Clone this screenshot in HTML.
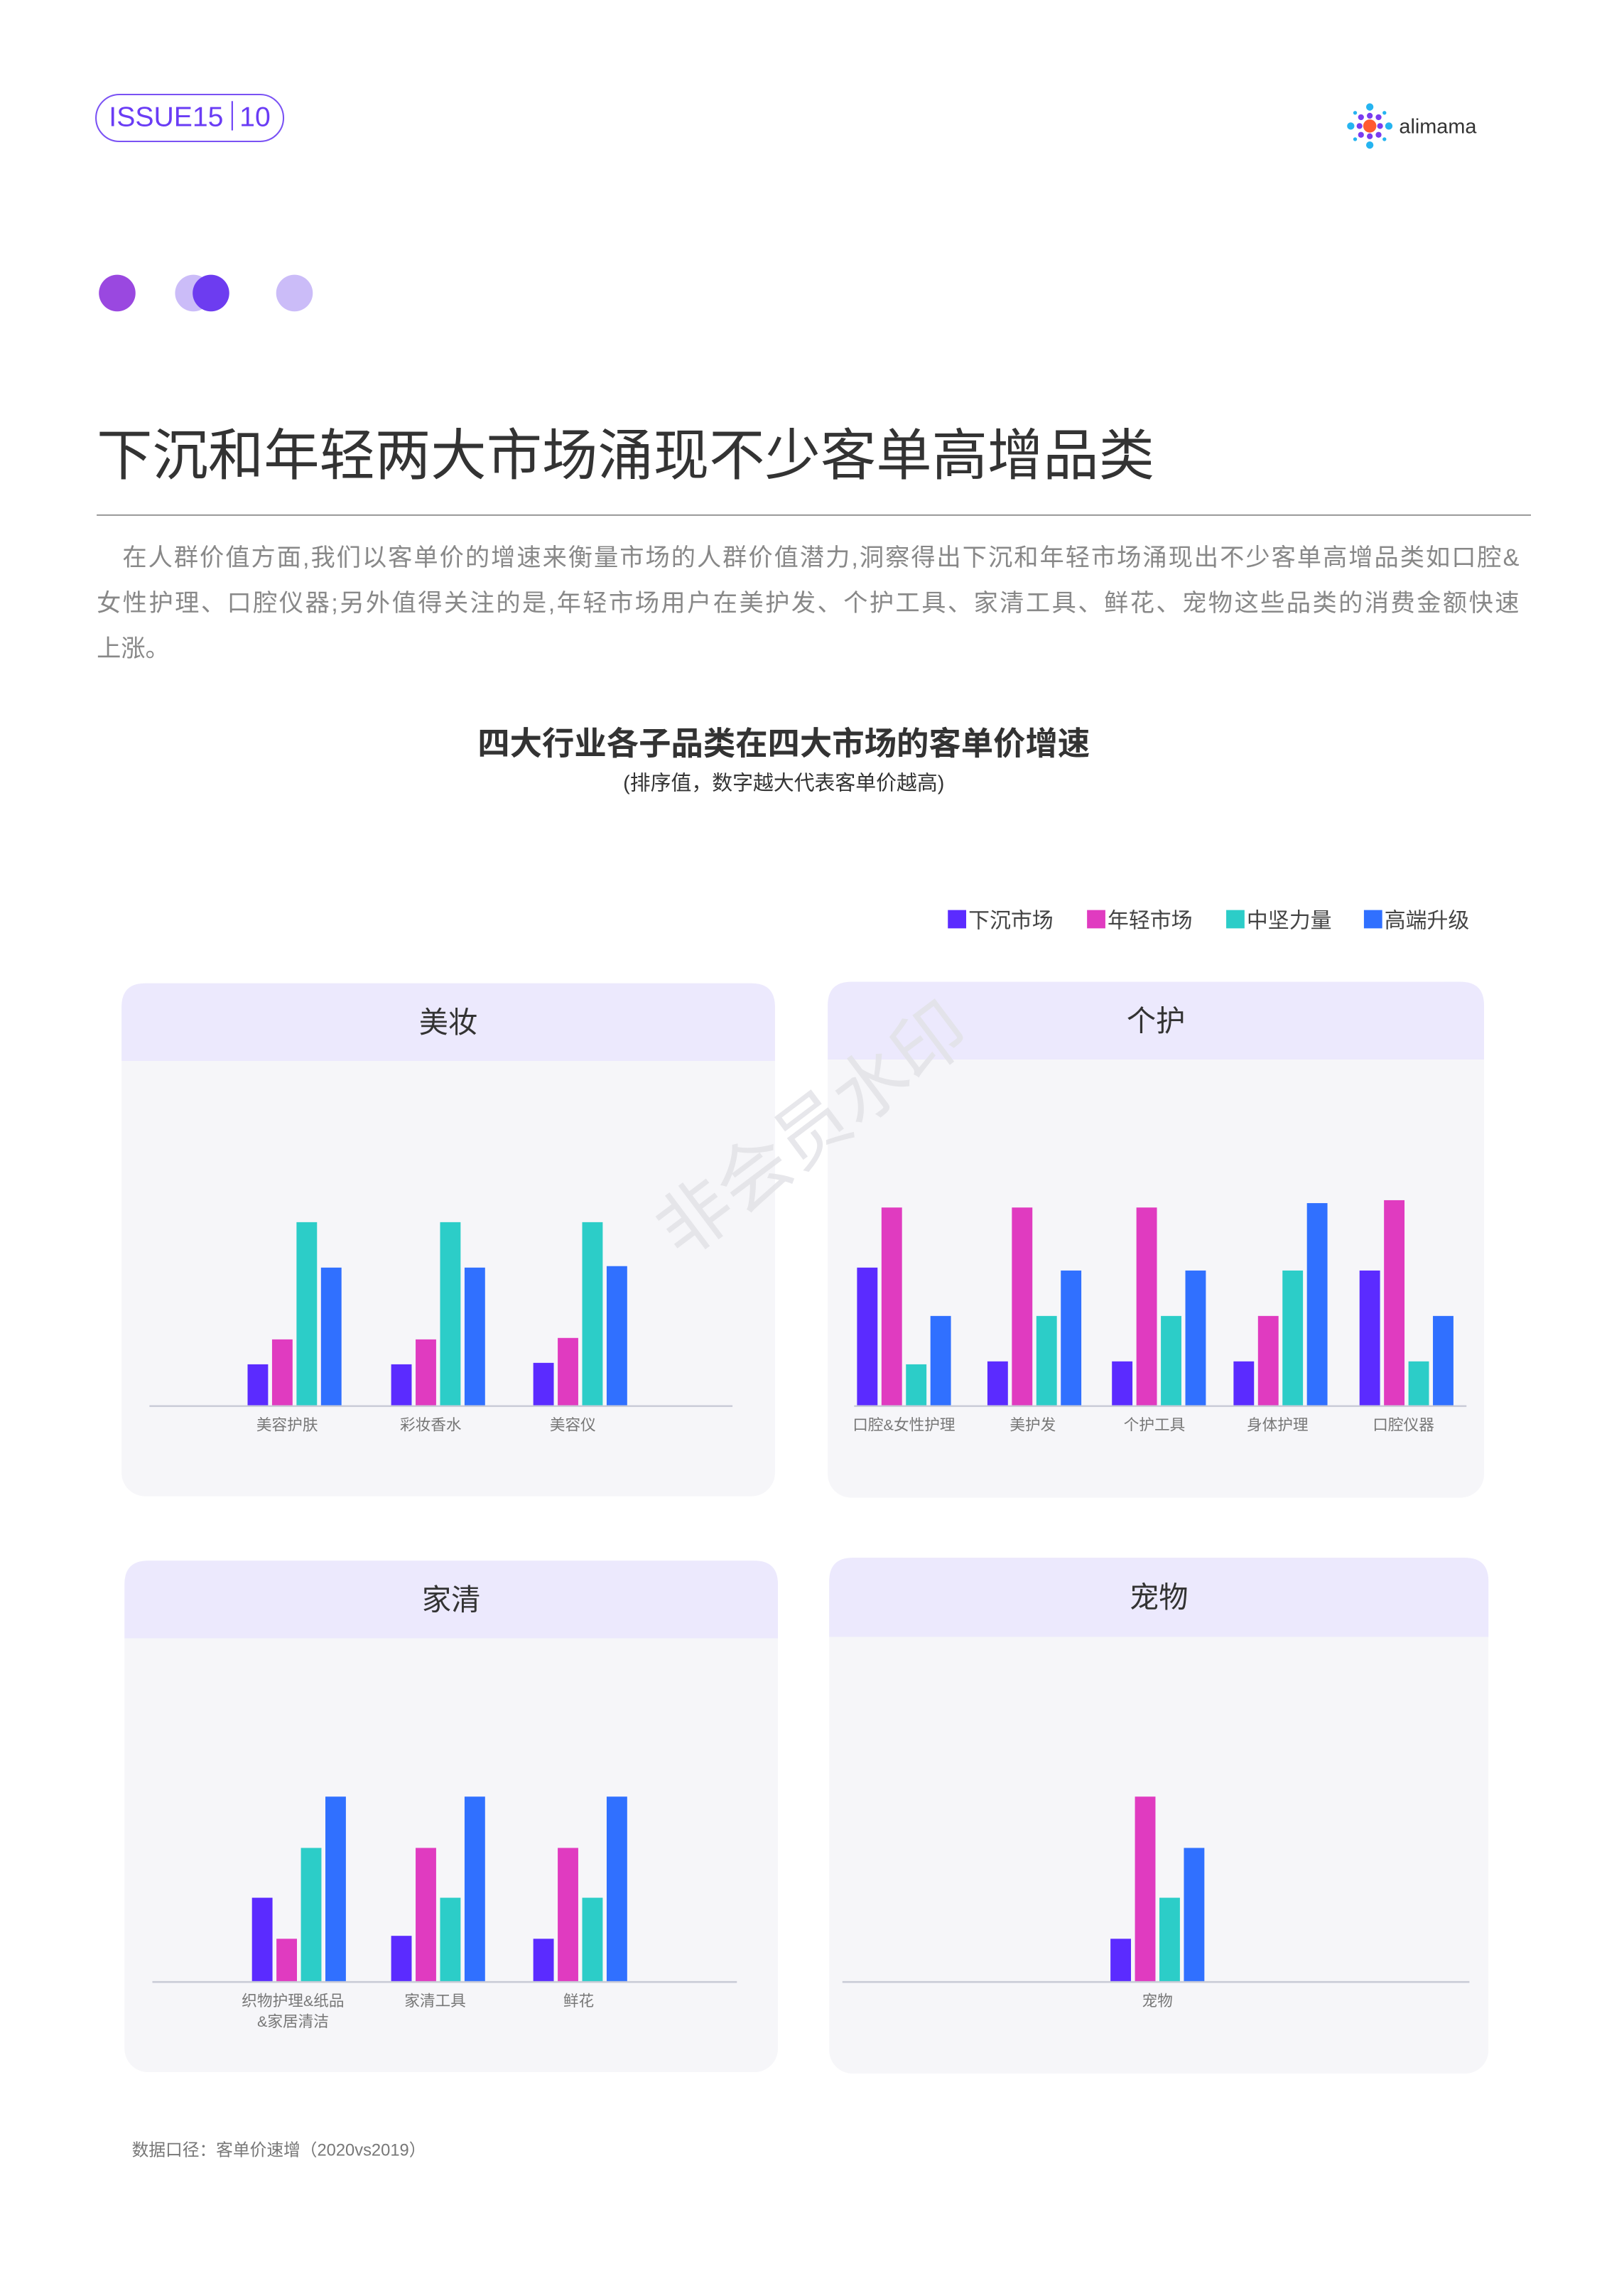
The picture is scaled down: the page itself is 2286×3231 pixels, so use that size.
<!DOCTYPE html>
<html><head><meta charset="utf-8">
<style>
html,body{margin:0;padding:0;background:#fff;}
body{width:2286px;height:3231px;overflow:hidden;position:relative;font-family:"Liberation Sans","Noto Sans CJK SC",sans-serif;}
#page{position:absolute;left:0;top:0;width:1110px;height:1567px;transform:scale(2.0622);transform-origin:0 0;}
.abs{position:absolute;}
.ln{display:block;text-align:justify;text-align-last:justify;white-space:nowrap;}
</style></head>
<body>
<div id="page">
  <div class="abs" style="left:65px;top:64px;width:127px;height:31px;border:1.5px solid #7a52f4;border-radius:17px;color:#6a3cf5;font-size:19px;line-height:31px;text-align:center;">ISSUE15<span style="display:inline-block;width:1px;height:20px;background:#6a3cf5;margin:0 5px;vertical-align:-3px;"></span>10</div>
  <svg class="abs" style="left:918px;top:70px" width="100" height="34">
    <g fill="#7a3cf0">
      <circle cx="17" cy="16" r="4.5" fill="#ff5a30"/>
      <circle cx="17" cy="3" r="2.5" fill="#25b4f0"/><circle cx="17" cy="29" r="2.5" fill="#25b4f0"/>
      <circle cx="4" cy="16" r="2.5" fill="#25b4f0"/><circle cx="30" cy="16" r="2.5" fill="#25b4f0"/>
      <circle cx="17" cy="9" r="2"/><circle cx="17" cy="23" r="2"/><circle cx="10" cy="16" r="2"/><circle cx="24" cy="16" r="2"/>
      <circle cx="11" cy="10" r="2"/><circle cx="23" cy="10" r="2"/><circle cx="11" cy="22" r="2"/><circle cx="23" cy="22" r="2"/>
      <circle cx="7" cy="7" r="1.3" fill="#25b4f0"/><circle cx="27" cy="7" r="1.3" fill="#25b4f0"/><circle cx="7" cy="25" r="1.3" fill="#25b4f0"/><circle cx="27" cy="25" r="1.3" fill="#25b4f0"/>
    </g>
    <text x="37" y="21" font-size="14" fill="#333" font-family="Liberation Sans, sans-serif">alimama</text>
  </svg>
  <svg class="abs" style="left:60px;top:185px" width="170" height="30">
    <circle cx="20" cy="15" r="12.5" fill="#9a48e0"/>
    <circle cx="72" cy="15" r="12.5" fill="#cbbcf8"/>
    <circle cx="84" cy="15" r="12.5" fill="#6d3cf0"/>
    <circle cx="141" cy="15" r="12.5" fill="#cbbcf8"/>
  </svg>
  <div class="abs" style="left:66px;top:288px;font-size:38px;color:#333;line-height:48px;white-space:nowrap;">下沉和年轻两大市场涌现不少客单高增品类</div>
  <div class="abs" style="left:66px;top:351px;width:979px;height:1px;background:#999;"></div>
  <div class="abs" style="left:66px;top:365px;width:971px;font-size:16.6px;color:#888;line-height:31px;">
    <span class="ln">　在人群价值方面,我们以客单价的增速来衡量市场的人群价值潜力,洞察得出下沉和年轻市场涌现出不少客单高增品类如口腔&amp;</span>
    <span class="ln">女性护理、口腔仪器;另外值得关注的是,年轻市场用户在美护发、个护工具、家清工具、鲜花、宠物这些品类的消费金额快速</span>
    <span style="display:block">上涨。</span>
  </div>
  <div class="abs" style="left:0;width:1070px;top:490px;text-align:center;font-size:22px;font-weight:bold;color:#333;">四大行业各子品类在四大市场的客单价增速</div>
  <div class="abs" style="left:0;width:1070px;top:524px;text-align:center;font-size:14px;color:#333;">(排序值，数字越大代表客单价越高)</div>
  <div class="abs" style="left:90px;top:1459px;font-size:11.5px;color:#777;">数据口径：客单价速增（2020vs2019）</div>
  <svg id="chart" class="abs" style="left:0;top:0" width="1110" height="1567"></svg>
</div>
<script>
const seriesNames=["下沉市场","年轻市场","中坚力量","高端升级"];
const colors=["#5b2bff","#e03bc0","#2ccdc8","#3070ff"];
const panelTitles=["美妆","个护","家清","宠物"];
const catsBeauty=["美容护肤","彩妆香水","美容仪"];
const catsCare=["口腔&女性护理","美护发","个护工具","身体护理","口腔仪器"];
const catsHome=["织物护理&纸品\n&家居清洁","家清工具","鲜花"];
const catsPet=["宠物"];
const valsBeauty=[[28,45,125,94],[28,45,125,94],[29,46,125,95]];
const valsCare=[[94,135,28,61],[30,135,61,92],[30,135,61,92],[30,61,92,138],[92,140,30,61]];
const valsHome=[[57,29,91,126],[31,91,57,126],[29,91,57,126]];
const valsPet=[[29,126,57,91]];

const NS="http://www.w3.org/2000/svg";
const svg=document.getElementById('chart');
function mk(tag,attrs,parent){const e=document.createElementNS(NS,tag);for(const k in attrs)e.setAttribute(k,attrs[k]);(parent||svg).appendChild(e);return e;}
const yScale=(base)=>v=>base-v;
const panels=[
 {x:83,y:671,w:446,h:350,hh:53,base:959,ax0:102,ax1:500,centers:[201,299,396],labX:[196,294,391],cats:catsBeauty,vals:valsBeauty},
 {x:565,y:670,w:448,h:352,hh:53,base:959,ax0:583,ax1:1001,centers:[617,706,791,874,960],labX:[617,705,788,872,958],cats:catsCare,vals:valsCare},
 {x:85,y:1065,w:446,h:349,hh:53,base:1352,ax0:104,ax1:503,centers:[204,299,396],labX:[200,297,395],cats:catsHome,vals:valsHome},
 {x:566,y:1063,w:450,h:352,hh:54,base:1352,ax0:575,ax1:1003,centers:[790],labX:[790],cats:catsPet,vals:valsPet}
];
panels.forEach((p,pi)=>{
  const g=mk('g',{});
  
  
  const bg=mk('rect',{x:p.x,y:p.y,width:p.w,height:p.h,rx:16,fill:'#f6f6f9'},g);
  
  
  const hdr=mk('path',{d:`M${p.x} ${p.y+p.hh}V${p.y+16}Q${p.x} ${p.y} ${p.x+16} ${p.y}H${p.x+p.w-16}Q${p.x+p.w} ${p.y} ${p.x+p.w} ${p.y+16}V${p.y+p.hh}Z`,fill:'#ece9fd'},g);
  
  
  const t=mk('text',{x:p.x+p.w/2,y:p.y+p.hh/2+7,'text-anchor':'middle','font-size':20,fill:'#333'},g);
  t.textContent=panelTitles[pi];
  
  
  const ys=yScale(p.base);
  p.vals.forEach((vs,ci)=>{
    vs.forEach((v,si)=>{
      const bx=p.centers[ci]-32+si*16.7;
      const r=mk('rect',{x:bx,y:ys(v),width:14,height:p.base-ys(v),fill:colors[si]},g);
      
      
    });
    const lines=p.cats[ci].split('\n');
    lines.forEach((ln,li)=>{
      const lt=mk('text',{x:p.labX[ci],y:p.base+17+li*14,'text-anchor':'middle','font-size':10.5,fill:'#777'},g);
      lt.textContent=ln;
      
      
    });
  });
  const ax=mk('line',{x1:p.ax0,x2:p.ax1,y1:p.base+0.5,y2:p.base+0.5,stroke:'#c8cad6','stroke-width':1.2},g);
  
  
});
const legX=[647,742,837,931];
seriesNames.forEach((n,i)=>{
  const sq=mk('rect',{x:legX[i],y:621,width:12.5,height:12.5,fill:colors[i]});
  
  
  const lt=mk('text',{x:legX[i]+14,y:633,'font-size':14.5,fill:'#444'});
  lt.textContent=n;
  
  
});
const wm=mk('text',{x:0,y:0,'font-size':50,fill:'#e2e2e6',opacity:0.8,transform:'translate(465,860) rotate(-37)'});
wm.textContent='非会员水印';


</script>
</body></html>
